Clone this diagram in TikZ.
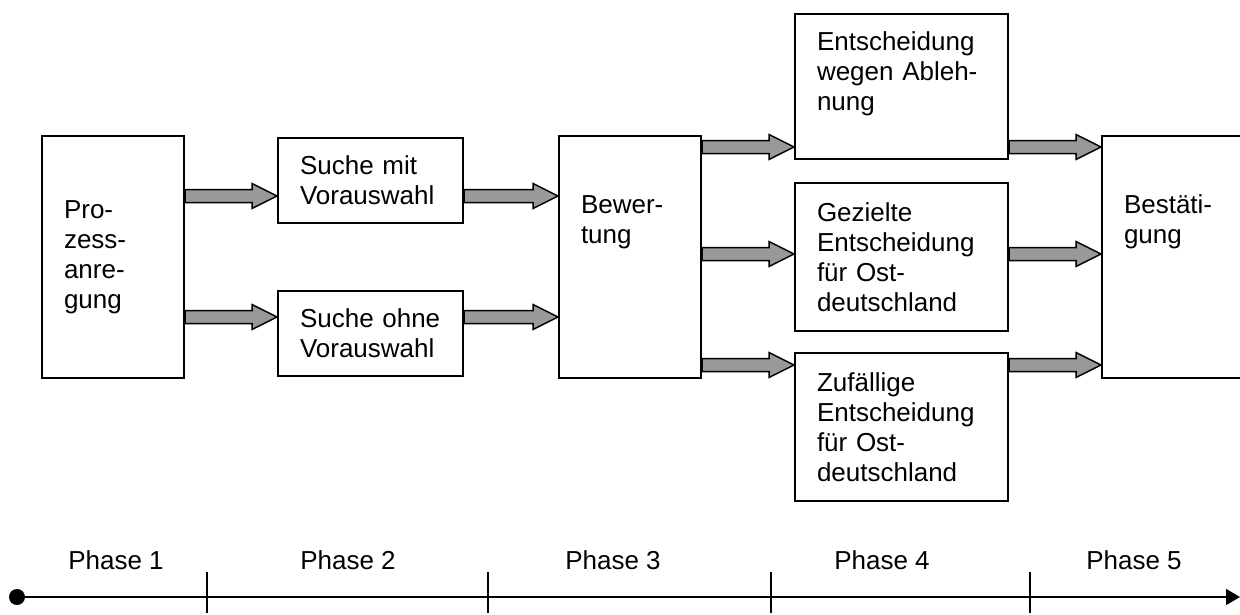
\documentclass[tikz,border=0pt]{standalone}
\usepackage{fontspec}
\setmainfont{Liberation Sans}
\usetikzlibrary{arrows.meta, calc, backgrounds}
\definecolor{arrowgray}{RGB}{153, 153, 153}

\begin{document}
\begin{tikzpicture}[
  x=1pt, y=-1pt,
  box/.style={
    rectangle, draw=black, line width=2pt, fill=white,
    anchor=north west, align=left,
    inner xsep=22pt, inner ysep=4pt,
    font=\fontsize{26pt}{30pt}\selectfont
  },
  blockarrow/.style={
    draw=black, line width=1.5pt, fill=arrowgray, line join=miter,
    to path={
      let \p1=(\tikztostart), \p2=(\tikztotarget) in
      (\x1,\y1+6.5pt) -- (\x2-25pt,\y1+6.5pt) -- (\x2-25pt,\y1+12.5pt)
      -- (\x2,\y1) -- (\x2-25pt,\y1-12.5pt) -- (\x2-25pt,\y1-6.5pt)
      -- (\x1,\y1-6.5pt) -- cycle
    }
  },
  phase/.style={anchor=base, inner sep=0pt, font=\fontsize{26pt}{30pt}\selectfont},
  tick/.style={line width=1.5pt}
]
  \useasboundingbox (0,0) rectangle (1240,614);

  % Phase 1 and 2
  \node[box, text width=98pt, minimum height=242pt] (proz) at (41,135) {Pro-\\zess-\\anre-\\gung};
  \node[box, text width=141pt, minimum height=85pt] (smit) at (277,137) {Suche mit\\Vorauswahl};
  \node[box, text width=141pt, minimum height=85pt] (sohne) at (277,290) {Suche ohne\\Vorauswahl};

  % Phase 3
  \node[box, text width=98pt, minimum height=242pt, text depth=105pt] (bew) at (558,135) {Bewer-\\tung};

  % Phase 4
  \node[box, text width=169pt, minimum height=145pt, text depth=90pt] (abl) at (794,13) {Entscheidung\\wegen Ableh-\\nung};
  \node[box, text width=169pt, minimum height=148pt] (gez) at (794,182) {Gezielte\\Entscheidung\\für Ost-\\deutschland};
  \node[box, text width=169pt, minimum height=148pt] (zuf) at (794,352) {Zufällige\\Entscheidung\\für Ost-\\deutschland};

  % Phase 5
  \node[box, text width=116pt, minimum height=242pt, text depth=105pt] (best) at (1101,135) {Bestäti-\\gung};

  % Arrows
  \begin{scope}[on background layer]
    \draw[blockarrow] (proz.east |- 0,196) to (smit.west |- 0,196);
    \draw[blockarrow] (proz.east |- 0,317) to (sohne.west |- 0,317);
    \draw[blockarrow] (smit.east |- 0,196) to (bew.west |- 0,196);
    \draw[blockarrow] (sohne.east |- 0,317) to (bew.west |- 0,317);
    \draw[blockarrow] (bew.east |- 0,147) to (abl.west |- 0,147);
    \draw[blockarrow] (bew.east |- 0,254) to (gez.west |- 0,254);
    \draw[blockarrow] (bew.east |- 0,365) to (zuf.west |- 0,365);
    \draw[blockarrow] (abl.east |- 0,147) to (best.west |- 0,147);
    \draw[blockarrow] (gez.east |- 0,254) to (best.west |- 0,254);
    \draw[blockarrow] (zuf.east |- 0,365) to (best.west |- 0,365);
  \end{scope}

  % Time line
  \coordinate (tstart) at (17,597);
  \coordinate (tend) at (1240,597);
  \fill (tstart) circle (8pt);
  \draw[line width=1.5pt, -{Triangle[length=14pt, width=16pt]}] (tstart) -- (tend);
  \foreach \tx in {207, 488, 771, 1030}
    \draw[tick] (\tx,572) -- (\tx,613);

  \node[phase] (ph1) at (116,569) {Phase 1};
  \node[phase] (ph2) at (348,569) {Phase 2};
  \node[phase] (ph3) at (613,569) {Phase 3};
  \node[phase] (ph4) at (882,569) {Phase 4};
  \node[phase] (ph5) at (1134,569) {Phase 5};
\end{tikzpicture}
\end{document}
